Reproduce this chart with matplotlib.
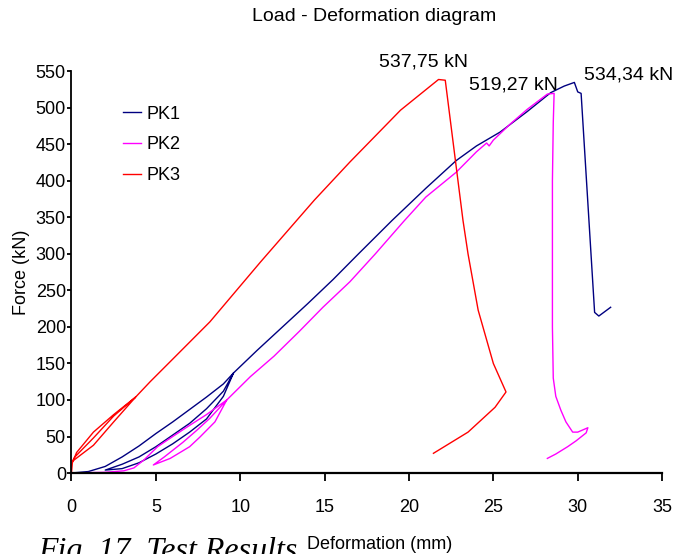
import matplotlib
matplotlib.use('Agg')
import matplotlib.pyplot as plt

plt.rcParams['font.family'] = ['Liberation Sans', 'DejaVu Sans']

# PK1 - two unload/reload loops up to ~137 kN, then loading to failure
pk1_x = [0, 0.5, 1.0, 2.0, 3.0, 4.0, 5.0, 6.0, 7.0, 8.0, 9.0, 9.6,
         9.0, 8.0, 7.0, 6.0, 5.0, 4.0, 3.0, 2.0,
         3.0, 4.0, 5.0, 6.0, 7.0, 8.0, 9.0, 9.6,
         11.0, 12.5, 14.0, 15.5, 17.0, 19.0, 21.0, 22.8, 24.0, 25.4, 27.0,
         28.4, 29.2, 29.8, 30.0, 30.2, 30.6, 31.0, 31.25, 31.6, 31.95]
pk1_y = [0, 1, 2, 9, 22, 37, 54, 70, 87, 104, 122, 137,
         105, 74, 56, 40, 26, 14, 6, 4,
         12, 22, 36, 52, 68, 88, 112, 137,
         168, 200, 232, 265, 300, 346, 390, 428, 448, 467, 495,
         521, 530, 535, 522, 520, 370, 220, 215, 221, 227]

# PK2 - one unload/reload loop at ~100 kN
pk2_x = [0, 1.0, 2.0, 3.1, 3.7, 4.3, 5.1, 6.0, 6.85, 8.0, 9.2,
         8.2, 7.4, 6.6, 5.5, 4.85,
         5.85, 7.0, 7.6, 8.5, 9.2,
         10.6, 12.0, 13.5, 14.9, 16.5, 18.0, 19.7, 21.0, 22.8, 24.0, 24.6,
         24.75, 25.0, 26.0, 27.0, 28.2, 28.6, 28.55, 28.5, 28.5, 28.55,
         28.7, 29.0, 29.3, 29.7, 30.0, 30.4, 30.6, 30.5, 29.9, 29.4, 28.7, 28.2]
pk2_y = [0, 0.5, 1, 3, 7, 18, 36, 50, 63, 80, 100,
         75, 58, 42, 22, 11,
         20, 36, 49, 70, 100,
         132, 160, 194, 227, 262, 300, 345, 378, 412, 440, 452,
         448, 456, 478, 498, 519, 520, 480, 400, 200, 130,
         105, 86, 70, 56, 56, 60, 62, 55, 44, 36, 26, 20]

# PK3 - two loops at ~103 kN, then loading to failure
pk3_x = [0, 0.05, 0.3, 1.3, 2.5, 3.8,
         2.5, 1.3, 0.2, 0.05,
         1.3, 2.5, 3.8,
         4.66, 6.0, 8.2, 11.2, 14.4, 16.5, 19.5, 21.0, 21.75, 22.15,
         23.2, 23.5, 24.1, 25.0, 25.75,
         25.1, 23.5, 21.45]
pk3_y = [0, 14, 28, 56, 80, 104,
         78, 48, 22, 16,
         38, 70, 104,
         125, 156, 207, 289, 374, 426, 497, 525, 539, 538,
         346, 300, 223, 150, 111,
         90, 56, 27]

series_names = ['PK1', 'PK2', 'PK3']
series_colors = ['#000080', '#FF00FF', '#FF0000']

peak_labels = ['537,75 kN', '519,27 kN', '534,34 kN']
peak_label_x = [20.85, 26.2, 33.0]
peak_label_y = [563, 531, 545]

fig = plt.figure(figsize=(6.77, 5.54), dpi=100)
ax = fig.add_axes([0.1056, 0.1462, 0.8724, 0.7248])

for xs, ys, name, c in zip([pk1_x, pk2_x, pk3_x], [pk1_y, pk2_y, pk3_y],
                           series_names, series_colors):
    ax.plot(xs, ys, color=c, lw=1.0, label=name)

for txt, tx, ty in zip(peak_labels, peak_label_x, peak_label_y):
    ax.text(tx, ty, txt, fontsize=14, ha='center', va='center', clip_on=False)

ax.set_xlim(0, 35)
ax.set_ylim(0, 550)
ax.set_xticks(range(0, 36, 5))
ax.set_yticks(range(0, 551, 50))
ax.spines['top'].set_visible(False)
ax.spines['right'].set_visible(False)
ax.spines['left'].set_linewidth(1.3)
ax.spines['bottom'].set_linewidth(1.6)
ax.tick_params(axis='x', length=6, width=1.3, labelsize=13, pad=13)
ax.tick_params(axis='y', length=3, width=1.3, labelsize=13, pad=1)

ax.set_xlabel('Deformation (mm)', fontsize=13, labelpad=14)
ax.xaxis.label.set_x(0.522)
ax.set_ylabel('Force (kN)', fontsize=13, labelpad=4)

fig.text(0.5523, 0.971, 'Load - Deformation diagram', fontsize=14,
         ha='center', va='center')

ax.legend(loc='upper left', bbox_to_anchor=(0.06, 0.955), frameon=False,
          fontsize=13, handlelength=1.0, handletextpad=0.3, labelspacing=0.75)

# caption of the source page, cut off by the crop
fig.text(38 / 677, 1 - 537 / 554, 'Fig. 17. Test Results', fontsize=23,
         family='Liberation Serif', style='italic', ha='left', va='top')

fig.savefig('out.png', dpi=100)
